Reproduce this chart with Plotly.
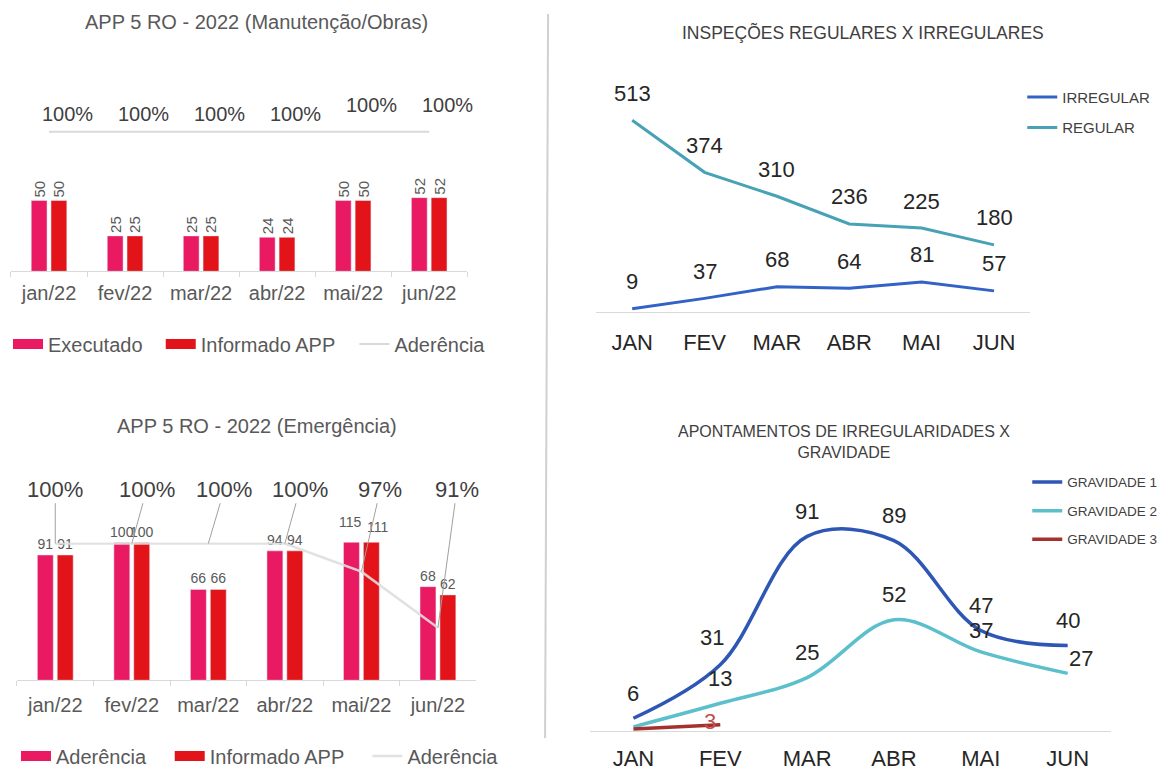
import plotly.graph_objects as go

# page body has an 8px margin: the figure is sized so it fills the 1171x776 window
OFF = 8
W, H = 1171 - OFF, 776 - OFF

# ---------------- DATA ----------------
meses_app = ["jan/22", "fev/22", "mar/22", "abr/22", "mai/22", "jun/22"]
manut_executado = [50, 25, 25, 24, 50, 52]
manut_informado = [50, 25, 25, 24, 50, 52]
manut_aderencia = [100, 100, 100, 100, 100, 100]

emerg_executado = [91, 100, 66, 94, 115, 68]
emerg_informado = [91, 100, 66, 94, 111, 62]
emerg_aderencia = [100, 100, 100, 100, 97, 91]

meses = ["JAN", "FEV", "MAR", "ABR", "MAI", "JUN"]
insp_irregular = [9, 37, 68, 64, 81, 57]
insp_regular = [513, 374, 310, 236, 225, 180]

grav1 = [6, 31, 91, 89, 47, 40]
grav2 = [2, 13, 25, 52, 37, 27]
grav3 = [1, 3, None, None, None, None]

# ---------------- STYLE ----------------
FONT = "Liberation Sans, Arial, sans-serif"
PINK = "#ea1a62"
RED = "#e3131a"
GRAY_TXT = "#595959"
DARK_TXT = "#262626"
AXIS_GRAY = "#d9d9d9"
BLUE = "#3262c6"
TEAL = "#46a2b4"
G1 = "#2e56b4"
G2 = "#5cbfcc"
G3 = "#a3322f"
EMERG_MAX = 100


def fx(px):
    return (px - OFF) / W


def fy(py):
    return 1 - (py - OFF) / H


fig = go.Figure()


def legend_swatch(name, color, xa, ya, leg):
    """Legend-only entry drawn as a wide rectangle (thick line swatch)."""
    return go.Scatter(x=[None], y=[None], name=name, mode="lines",
                      line=dict(color=color, width=10), xaxis=xa, yaxis=ya,
                      legend=leg, hoverinfo="skip")


# ---- Top-left: Manutenção/Obras ----
bar_common = dict(textposition="outside", cliponaxis=False, constraintext="none", showlegend=False)
fig.add_trace(go.Bar(x=meses_app, y=manut_executado, name="Executado", marker_color=PINK,
                     text=manut_executado, textangle=-90,
                     textfont=dict(size=15, color=GRAY_TXT, family=FONT),
                     xaxis="x", yaxis="y", **bar_common))
fig.add_trace(go.Bar(x=meses_app, y=manut_informado, name="Informado APP", marker_color=RED,
                     text=manut_informado, textangle=-90,
                     textfont=dict(size=15, color=GRAY_TXT, family=FONT),
                     xaxis="x", yaxis="y", **bar_common))
fig.add_trace(go.Scatter(x=meses_app, y=manut_aderencia, name="Aderência", mode="lines",
                         line=dict(color=AXIS_GRAY, width=2),
                         xaxis="x", yaxis="y2", legend="legend3"))
fig.add_trace(legend_swatch("Executado", PINK, "x", "y", "legend"))
fig.add_trace(legend_swatch("Informado APP", RED, "x", "y", "legend2"))

# ---- Bottom-left: Emergência ----
def in_range_text(vals):
    return [str(v) if v <= EMERG_MAX else "" for v in vals]


fig.add_trace(go.Bar(x=meses_app, y=emerg_executado, name="Aderência", marker_color=PINK,
                     text=in_range_text(emerg_executado), textangle=0,
                     textfont=dict(size=14, color=GRAY_TXT, family=FONT),
                     xaxis="x2", yaxis="y3", **bar_common))
fig.add_trace(go.Bar(x=meses_app, y=emerg_informado, name="Informado APP", marker_color=RED,
                     text=in_range_text(emerg_informado), textangle=0,
                     textfont=dict(size=14, color=GRAY_TXT, family=FONT),
                     xaxis="x2", yaxis="y3", **bar_common))
fig.add_trace(go.Scatter(x=meses_app, y=emerg_aderencia, name="Aderência", mode="lines",
                         line=dict(color="rgba(222,222,222,0.9)", width=2.5),
                         xaxis="x2", yaxis="y4", legend="legend6"))
fig.add_trace(legend_swatch("Aderência", PINK, "x2", "y3", "legend4"))
fig.add_trace(legend_swatch("Informado APP", RED, "x2", "y3", "legend5"))

# ---- Top-right: Inspeções ----
fig.add_trace(go.Scatter(x=meses, y=insp_irregular, name="IRREGULAR", mode="lines",
                         line=dict(color=BLUE, width=3), legendgroup="a",
                         xaxis="x3", yaxis="y5", legend="legend7"))
fig.add_trace(go.Scatter(x=meses, y=insp_regular, name="REGULAR", mode="lines",
                         line=dict(color=TEAL, width=3), legendgroup="b",
                         xaxis="x3", yaxis="y5", legend="legend7"))

# ---- Bottom-right: Gravidade ----
for name, vals, col, grp in [("GRAVIDADE 1", grav1, G1, "g1"),
                             ("GRAVIDADE 2", grav2, G2, "g2"),
                             ("GRAVIDADE 3", grav3, G3, "g3")]:
    fig.add_trace(go.Scatter(x=meses, y=vals, name=name, mode="lines",
                             line=dict(color=col, width=3.5, shape="spline", smoothing=1.0),
                             legendgroup=grp, xaxis="x4", yaxis="y6", legend="legend8"))

# ---------------- ANNOTATIONS ----------------
ann = []
ctr = dict(xanchor="center", yanchor="middle")

# titles
ann.append(dict(text="APP 5 RO - 2022 (Manutenção/Obras)", x=fx(255), y=fy(22), xref="paper", yref="paper",
                showarrow=False, font=dict(size=20, color=GRAY_TXT, family=FONT), **ctr))
ann.append(dict(text="APP 5 RO - 2022 (Emergência)", x=fx(255), y=fy(427), xref="paper", yref="paper",
                showarrow=False, font=dict(size=20, color=GRAY_TXT, family=FONT), **ctr))
ann.append(dict(text="INSPEÇÕES REGULARES X IRREGULARES", x=fx(862), y=fy(33), xref="paper", yref="paper",
                showarrow=False, font=dict(size=17.5, color="#404040", family=FONT), **ctr))
ann.append(dict(text="APONTAMENTOS DE IRREGULARIDADES X<br>GRAVIDADE", x=fx(843), y=fy(443),
                xref="paper", yref="paper", showarrow=False,
                font=dict(size=16, color="#404040", family=FONT), **ctr))

# top-left percentage labels
tl_dy = [18, 18, 18, 18, 27, 27]
for i, (m, v) in enumerate(zip(meses_app, manut_aderencia)):
    ann.append(dict(text=f"{v}%", x=m, y=v, xref="x", yref="y2", showarrow=False,
                    xshift=18, yshift=tl_dy[i],
                    font=dict(size=20, color="#404040", family=FONT), **ctr))

# bottom-left bar labels for bars that run past the axis top (anchored at the top, shifted by scale)
em_top_px, em_base_px = 544, 682
px_per_unit = (em_base_px - em_top_px) / EMERG_MAX
anchor_v = EMERG_MAX * 0.99
for vals, dx in ((emerg_executado, -11), (emerg_informado, 16)):
    for m, v in zip(meses_app, vals):
        if v > EMERG_MAX:
            ann.append(dict(text=str(v), x=m, y=anchor_v, xref="x2", yref="y3", showarrow=False,
                            xshift=dx, yshift=(v - anchor_v) * px_per_unit,
                            font=dict(size=14, color=GRAY_TXT, family=FONT), **ctr))

# bottom-left percentage labels with leader lines
bl_ax = [0, 15, 16, 15, 19, 19]
for i, (m, v) in enumerate(zip(meses_app, emerg_aderencia)):
    ann.append(dict(text=f"{v}%", x=m, y=v, xref="x2", yref="y4", showarrow=True,
                    arrowhead=0, arrowwidth=1, arrowcolor="#a0a0a0",
                    ax=bl_ax[i], ay=105.8, ayref="y4",
                    font=dict(size=22, color="#404040", family=FONT)))

# top-right value labels
for series in (insp_regular, insp_irregular):
    for m, v in zip(meses, series):
        ann.append(dict(text=str(v), x=m, y=v, xref="x3", yref="y5", showarrow=False,
                        yshift=27, font=dict(size=22, color=DARK_TXT, family=FONT), **ctr))

# bottom-right value labels
g1_shift = {1: (-8, 27)}
g2_shift = {0: None, 4: (0, 21), 5: (13, 15)}
for i, (m, v) in enumerate(zip(meses, grav1)):
    dx, dy = g1_shift.get(i, (0, 25))
    ann.append(dict(text=str(v), x=m, y=v, xref="x4", yref="y6", showarrow=False,
                    xshift=dx, yshift=dy, font=dict(size=22, color=DARK_TXT, family=FONT), **ctr))
for i, (m, v) in enumerate(zip(meses, grav2)):
    sh = g2_shift.get(i, (0, 25))
    if sh is None:
        continue
    dx, dy = sh
    ann.append(dict(text=str(v), x=m, y=v, xref="x4", yref="y6", showarrow=False,
                    xshift=dx, yshift=dy, font=dict(size=22, color=DARK_TXT, family=FONT), **ctr))
for i, (m, v) in enumerate(zip(meses, grav3)):
    if v is None or i == 0:
        continue
    ann.append(dict(text=str(v), x=m, y=v, xref="x4", yref="y6", showarrow=False,
                    xshift=-10, yshift=3, font=dict(size=22, color="#c0504d", family=FONT), **ctr))

# ---------------- AXES ----------------
CAT_RANGE = [-0.5, 5.5]
left_x = dict(showline=True, linecolor=AXIS_GRAY, linewidth=1, ticks="outside", tickson="boundaries",
              ticklen=5, tickcolor=AXIS_GRAY, tickfont=dict(size=20, color=GRAY_TXT, family=FONT),
              showgrid=False, zeroline=False, fixedrange=True, range=CAT_RANGE, automargin=False)
right_x = dict(showline=True, linecolor=AXIS_GRAY, linewidth=1, ticks="",
               tickfont=dict(size=22, color=DARK_TXT, family=FONT),
               showgrid=False, zeroline=False, fixedrange=True, range=CAT_RANGE, automargin=False)
hid_y = dict(visible=False, showgrid=False, zeroline=False, fixedrange=True)

left_leg = dict(xanchor="left", yanchor="middle", orientation="h",
                font=dict(size=20, color=GRAY_TXT, family=FONT), bgcolor="rgba(0,0,0,0)")

fig.update_layout(
    width=W, height=H,
    margin=dict(l=0, r=0, t=0, b=0),
    paper_bgcolor="white", plot_bgcolor="rgba(0,0,0,0)",
    font=dict(family=FONT),
    barmode="group", bargap=0.48, bargroupgap=0.2,
    showlegend=True,
    xaxis=dict(domain=[fx(9), fx(466)], anchor="y", ticklabelstandoff=4, **left_x),
    yaxis=dict(domain=[fy(272), fy(120)], range=[0, 107], anchor="x", **hid_y),
    yaxis2=dict(overlaying="y", range=[0, 108.6], anchor="x", **hid_y),
    xaxis2=dict(domain=[fx(15), fx(475)], anchor="y3", ticklabelstandoff=7, **left_x),
    yaxis3=dict(domain=[fy(em_base_px), fy(em_top_px)], range=[0, EMERG_MAX], anchor="x2", **hid_y),
    yaxis4=dict(overlaying="y3", range=[85.4, 100.1], anchor="x2", **hid_y),
    xaxis3=dict(domain=[fx(595), fx(1030)], anchor="y5", ticklabelstandoff=10, **right_x),
    yaxis5=dict(domain=[fy(313), fy(103)], range=[0, 560], anchor="x3", **hid_y),
    xaxis4=dict(domain=[fx(589), fx(1111)], anchor="y6", ticklabelstandoff=7, **right_x),
    yaxis6=dict(domain=[fy(733), fy(497)], range=[0, 110], anchor="x4", **hid_y),
    legend=dict(x=fx(6), y=fy(345), **left_leg),
    legend2=dict(x=fx(159), y=fy(345), **left_leg),
    legend3=dict(x=fx(353), y=fy(345), **left_leg),
    legend4=dict(x=fx(14), y=fy(758), **left_leg),
    legend5=dict(x=fx(168), y=fy(758), **left_leg),
    legend6=dict(x=fx(366), y=fy(758), **left_leg),
    legend7=dict(x=fx(1022), y=fy(81), xanchor="left", yanchor="top", orientation="v",
                 tracegroupgap=8, font=dict(size=15, color="#404040", family=FONT),
                 bgcolor="rgba(0,0,0,0)"),
    legend8=dict(x=fx(1027), y=fy(468), xanchor="left", yanchor="top", orientation="v",
                 tracegroupgap=8, font=dict(size=13.5, color="#404040", family=FONT),
                 bgcolor="rgba(0,0,0,0)"),
    annotations=ann,
    shapes=[dict(type="line", xref="paper", yref="paper", x0=fx(547), x1=fx(544),
                 y0=fy(14), y1=fy(740), line=dict(color="#d0d0d0", width=2))],
)

fig.write_html("out.html")
